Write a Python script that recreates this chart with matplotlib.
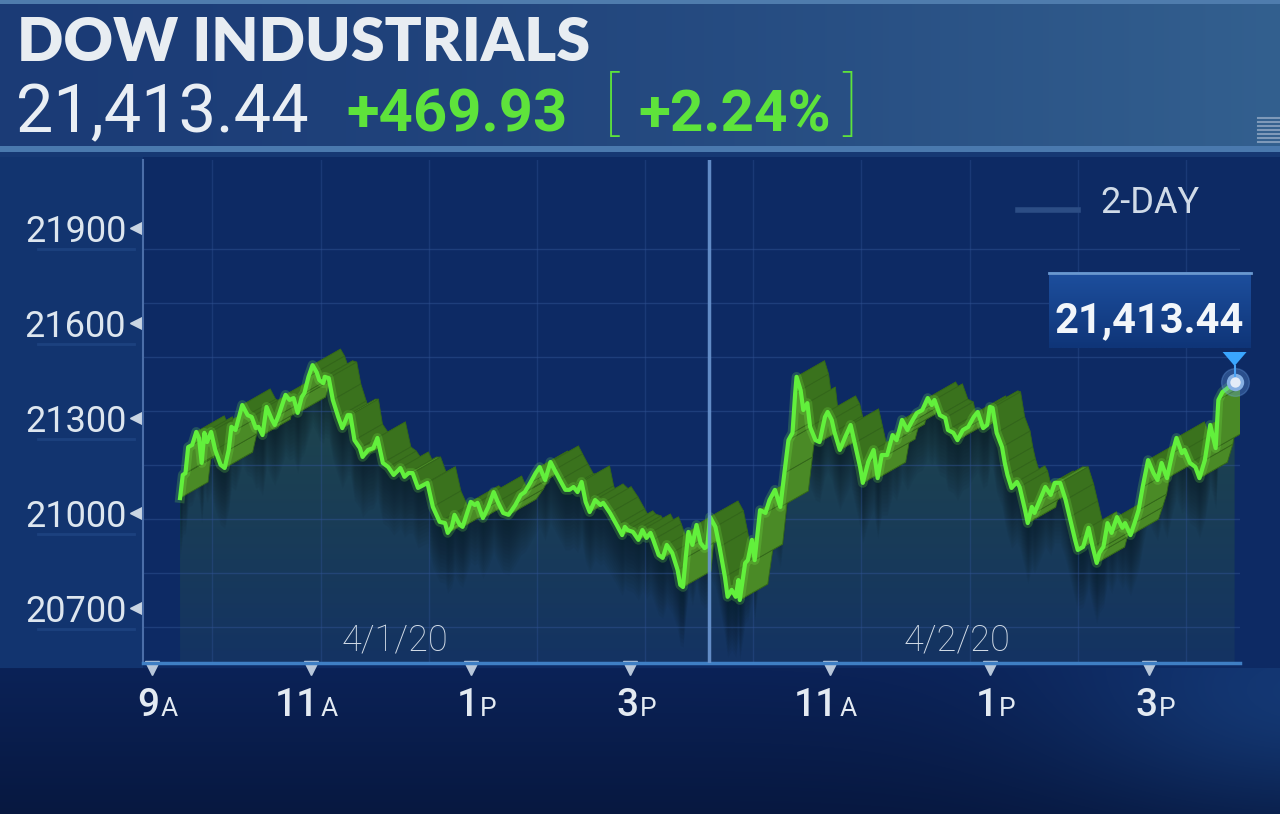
import numpy as np
import matplotlib
matplotlib.use('Agg')
import matplotlib.pyplot as plt
from matplotlib.colors import to_rgb
from matplotlib.patches import Polygon
from matplotlib.collections import PolyCollection
from matplotlib.transforms import blended_transform_factory, offset_copy

# minutes after the 9:30 open of 4/1 (4/2 continues at 390), index level
day1 = np.array([
    (0, 21047), (2, 21120), (4, 21126), (6, 21208), (9, 21215), (12, 21256),
    (14, 21237), (16, 21158), (18, 21253), (20, 21224), (23, 21256), (26, 21199),
    (30, 21152), (33, 21142), (36, 21199), (38, 21272), (41, 21262), (46, 21341),
    (50, 21309), (53, 21303), (56, 21268), (58, 21272), (61, 21246), (64, 21335),
    (68, 21294), (70, 21278), (73, 21309), (78, 21373), (81, 21357), (84, 21363),
    (87, 21316), (90, 21366), (92, 21379), (95, 21430), (98, 21467), (101, 21445),
    (103, 21420), (106, 21410), (107, 21430), (110, 21426), (113, 21357), (117, 21303),
    (120, 21268), (124, 21309), (126, 21309), (129, 21230), (133, 21205), (135, 21177),
    (139, 21199), (143, 21205), (146, 21237), (150, 21158), (154, 21145), (158, 21120),
    (163, 21142), (166, 21114), (169, 21126), (172, 21126), (176, 21079), (183, 21095),
    (187, 21019), (192, 20972), (196, 20968), (198, 20937), (201, 20956), (203, 20994),
    (207, 20962), (209, 20956), (215, 21035), (218, 21025), (220, 21032), (224, 20984),
    (228, 21019), (232, 21066), (235, 21035), (239, 21000), (243, 20994), (248, 21025),
    (252, 21057), (255, 21066), (259, 21095), (263, 21126), (266, 21145), (270, 21104),
    (274, 21161), (277, 21136), (281, 21104), (285, 21073), (288, 21073), (291, 21082),
    (294, 21066), (297, 21098), (300, 21035), (303, 21003), (307, 21041), (311, 21025),
    (313, 21032), (318, 21000), (323, 20962), (327, 20930), (329, 20956), (331, 20946),
    (335, 20940), (339, 20915), (342, 20946), (345, 20921), (348, 20937), (350, 20915),
    (354, 20867), (357, 20858), (360, 20899), (364, 20874), (368, 20820), (370, 20773),
    (372, 20766), (374, 20858), (376, 20940), (379, 20899), (382, 20962), (385, 20905),
    (388, 20889), (390, 20895),
])
day2 = np.array([
    (392, 20987), (396, 20956), (399, 20893), (403, 20798), (405, 20735), (408, 20757),
    (411, 20735), (413, 20788), (414, 20725), (418, 20842), (420, 20851), (423, 20915),
    (425, 20851), (429, 21009), (433, 21000), (436, 21041), (440, 21073), (444, 21019),
    (447, 21126), (450, 21230), (453, 21253), (455, 21379), (456, 21430), (459, 21388),
    (461, 21325), (464, 21347), (466, 21272), (470, 21230), (473, 21224), (477, 21303),
    (479, 21319), (482, 21294), (484, 21256), (488, 21199), (492, 21240), (496, 21278),
    (499, 21221), (503, 21145), (505, 21095), (509, 21161), (513, 21199), (516, 21110),
    (519, 21183), (523, 21183), (527, 21246), (530, 21230), (534, 21294), (538, 21262),
    (541, 21287), (545, 21316), (549, 21325), (553, 21363), (556, 21341), (558, 21357),
    (562, 21309), (566, 21300), (568, 21262), (572, 21253), (575, 21230), (579, 21262),
    (583, 21272), (587, 21303), (590, 21319), (594, 21268), (597, 21278), (599, 21335),
    (601, 21332), (604, 21253), (608, 21208), (610, 21158), (612, 21120), (615, 21079),
    (619, 21098), (621, 21082), (625, 21009), (627, 20968), (630, 21019), (632, 21000),
    (636, 21041), (640, 21082), (644, 21057), (647, 21095), (651, 21095), (655, 21041),
    (658, 20987), (662, 20915), (664, 20883), (668, 20893), (672, 20953), (675, 20893),
    (678, 20842), (680, 20874), (683, 20893), (686, 20968), (689, 20937), (693, 20987),
    (697, 20953), (699, 20968), (703, 20930), (706, 20968), (709, 21009), (712, 21082),
    (716, 21167), (720, 21126), (723, 21104), (726, 21158), (730, 21110), (734, 21189),
    (737, 21237), (741, 21189), (743, 21199), (747, 21158), (751, 21145), (754, 21110),
    (758, 21167), (762, 21278), (766, 21205), (768, 21357), (771, 21382), (775, 21395),
    (780, 21413.44),
])

title = 'DOW INDUSTRIALS'
last_text = '21,413.44'
change_text = '+469.93'
pct_text = '+2.24%'
period_text = '2-DAY'

y_ticks = [20700, 21000, 21300, 21600, 21900]
x_tick_pos = [-21, 97, 215, 333, 481, 599, 717]
x_tick_num = ['9', '11', '1', '3', '11', '1', '3']
x_tick_suf = ['A', 'A', 'P', 'P', 'A', 'P', 'P']
day_labels = ['4/1/20', '4/2/20']
day_label_pos = [159, 575]
day_split = 391

W, H = 1280, 814
AX_L, AX_R, AX_T, AX_B = 143, 1240, 160, 663
XMIN, XMAX = -27.4, 784.0
YMIN, YMAX = 20526, 22115
px_x = (AX_R - AX_L) / (XMAX - XMIN)
px_y = (AX_B - AX_T) / (YMAX - YMIN)


def c(h):
    return np.array(to_rgb(h))


fig = plt.figure(figsize=(12.8, 8.14), dpi=100)

# background picture
yy, xx = np.mgrid[0:H, 0:W].astype(float)
img = np.empty((H, W, 3))
img[:] = c('#0d2a64')
img[(xx < AX_L) & (yy > 155) & (yy < 668)] = c('#12346f')
tb = (xx / W)[..., None] ** 1.4
ban = c('#1b3b76') * (1 - tb) + c('#33608f') * tb
bm = yy < 148
img[bm] = ban[bm]
img[yy < 4] = c('#4f7cad')
img[(yy >= 146) & (yy < 152)] = c('#4a79ae')
img[(yy >= 152) & (yy < 157)] = c('#163873')
tv = np.clip((yy - 668) / 146, 0, 1)[..., None]
botc = c('#0b2257') * (1 - tv) + c('#071840') * tv
glow = np.exp(-(((xx - 1310) / 240) ** 2 + ((yy - 700) / 110) ** 2))[..., None]
botc = botc * (1 - 0.5 * glow) + c('#1d4f94') * 0.5 * glow
bot = yy >= 668
img[bot] = botc[bot]

bg = fig.add_axes([0, 0, 1, 1])
bg.imshow(img, extent=(0, W, H, 0), aspect='auto', interpolation='bilinear')
bg.set_xlim(0, W)
bg.set_ylim(H, 0)
bg.axis('off')

# chart
ax = fig.add_axes([AX_L / W, (H - AX_B) / H, (AX_R - AX_L) / W, (AX_B - AX_T) / H])
ax.patch.set_alpha(0)

t = np.concatenate([day1[:, 0], day2[:, 0]])
v = np.concatenate([day1[:, 1], day2[:, 1]])

# grid
for gy in np.arange(20640, 21900, 170.5):
    ax.axhline(gy, color='#2f5292', lw=1, alpha=0.5, zorder=2.5)
for gx in np.arange(24, XMAX, 80):
    ax.axvline(gx, color='#2f5292', lw=1, alpha=0.4, zorder=2.5)

# area under the line
grad = np.linspace(0, 1, 256)[:, None, None]
gimg = c('#1f4749') * (1 - grad) + c('#143363') * grad
im = ax.imshow(gimg, extent=(t[0], t[-1], YMIN, v.max()), origin='upper',
               aspect='auto', zorder=1, interpolation='bilinear')
clip = Polygon(np.column_stack([np.r_[t, t[-1], t[0]], np.r_[v, YMIN, YMIN]]),
               closed=True, transform=ax.transData, fc='none', ec='none')
ax.add_patch(clip)
im.set_clip_path(clip)
for k in range(1, 16):
    ax.fill_between(t, v - k * 4 / px_y, v, color='#08171f', alpha=0.06, lw=0, zorder=2)

# 3D ribbon behind the line
dxm = 28 / px_x
dyv = 16 / px_y
quads, cols = [], []
for i in range(len(t) - 1):
    x0, y0, x1, y1 = t[i], v[i], t[i + 1], v[i + 1]
    quads.append([(x0, y0), (x1, y1), (x1 + dxm, y1 + dyv), (x0 + dxm, y0 + dyv)])
    cols.append('#4a8a26' if y1 >= y0 else '#3a721d')
ax.add_collection(PolyCollection(quads, facecolors=cols, edgecolors='#33661a',
                                 linewidths=0.6, zorder=3))

ax.plot(t, v, color='#7dff4a', lw=7, alpha=0.2, zorder=4, solid_joinstyle='round')
ax.plot(t, v, color='#62f03c', lw=3, zorder=5, solid_joinstyle='round')

ax.axvline(day_split, color='#6b97d2', lw=2.5, alpha=0.9, zorder=6)

ax.plot(t[-1], v[-1], 'o', ms=20, color='#6fa6ea', alpha=0.3, zorder=7, clip_on=False)
ax.plot(t[-1], v[-1], 'o', ms=10, mfc='#e3ecf7', mec='#86b0e2', mew=2.5, zorder=8,
        clip_on=False)

ax.set_xlim(XMIN, XMAX)
ax.set_ylim(YMIN, YMAX)
for s in ['top', 'right']:
    ax.spines[s].set_visible(False)
ax.spines['bottom'].set_color('#3f7fc4')
ax.spines['bottom'].set_linewidth(2.5)
ax.spines['left'].set_color('#4b6ea8')
ax.spines['left'].set_linewidth(1.5)

ax.set_yticks(y_ticks)
ax.set_yticklabels([str(y) for y in y_ticks], fontfamily='Roboto', fontsize=26,
                   color='#dde6ef')
ax.tick_params(axis='y', length=0, pad=12)
ax.set_xticks([])

ty = blended_transform_factory(ax.transAxes, ax.transData)
ax.plot([-0.006] * len(y_ticks), y_ticks, '<', ms=8, color='#c9d5e3',
        transform=ty, clip_on=False)
under = offset_copy(ty, fig=fig, y=-21, units='dots')
for y in y_ticks:
    ax.plot([-0.096, -0.008], [y, y], color='#1f4584', lw=2, alpha=0.8,
            transform=under, clip_on=False)

tx = blended_transform_factory(ax.transData, ax.transAxes)
ax.plot(x_tick_pos, [-0.01] * len(x_tick_pos), 'v', ms=10, color='#b8c7da',
        transform=tx, clip_on=False)
num_tr = offset_copy(tx, fig=fig, x=8, units='dots')
for pos, num, suf in zip(x_tick_pos, x_tick_num, x_tick_suf):
    tn = ax.text(pos, -0.105, num, transform=num_tr, ha='right', va='baseline',
                 fontfamily='Roboto', fontsize=28, color='#e3eaf2', fontweight='medium')
    ax.annotate(suf, xy=(1, 0), xycoords=tn, xytext=(1, 2), textcoords='offset points',
                ha='left', va='bottom', fontfamily='Roboto', fontsize=19, color='#e3eaf2')

for pos, lab in zip(day_label_pos, day_labels):
    ax.text(pos, 0.024, lab, transform=tx, ha='center', va='baseline',
            fontfamily='Roboto', fontweight='light', fontsize=26, color='#d3dde8', zorder=9)

# overlay (pixel coordinates)
ov = fig.add_axes([0, 0, 1, 1])
ov.set_xlim(0, W)
ov.set_ylim(H, 0)
ov.axis('off')

ov.text(17, 61, title, fontfamily='Lato', fontweight='heavy', fontsize=44,
        color='#e8edf2', va='baseline')
ov.text(16, 132, last_text, fontfamily='Roboto', fontsize=48, color='#e9eef4',
        va='baseline')
green = '#5ee33b'
ov.text(346, 132, change_text, fontfamily='Roboto', fontweight='bold', fontsize=43,
        color=green, va='baseline')
ov.text(604, 127, '[', fontfamily='Roboto', fontweight='light', fontsize=50,
        color=green, va='baseline')
ov.text(638, 132, pct_text, fontfamily='Roboto', fontweight='bold', fontsize=42,
        color=green, va='baseline')
ov.text(842, 127, ']', fontfamily='Roboto', fontweight='light', fontsize=50,
        color=green, va='baseline')
for k in range(7):
    ov.plot([1258, 1280], [118 + 4 * k, 118 + 4 * k], color='#9fb3cc', lw=1.5, alpha=0.7)

ov.plot([1018, 1078], [210, 210], color='#2c4d85', lw=4)
ov.text(1200, 213, period_text, fontfamily='Roboto', fontsize=26, color='#d0dbe8',
        ha='right', va='baseline')

# callout box for the last value
lx = AX_L + (t[-1] - XMIN) * px_x
ly = AX_B - (v[-1] - YMIN) * px_y
bx0, bx1, by0, by1 = lx - 186, lx + 16, 272, 348
bgrad = np.linspace(0, 1, 64)[:, None, None]
bimg = c('#1d4f9e') * (1 - bgrad) + c('#0f3578') * bgrad
ov.imshow(bimg, extent=(bx0, bx1, by1, by0), aspect='auto', zorder=3)
ov.plot([bx0, bx1], [by0 + 1, by0 + 1], color='#6a98cf', lw=2, zorder=4)
ov.text((bx0 + bx1) / 2, by1 - 16, last_text, fontfamily='Roboto', fontweight='bold',
        fontsize=30, color='#f2f6fa', ha='center', va='baseline', zorder=5)
ov.add_patch(Polygon([(lx - 12, by1 + 4), (lx + 12, by1 + 4), (lx, by1 + 18)],
                     closed=True, fc='#3aa6ff', ec='none', zorder=4))
ov.plot([lx, lx], [by1 + 18, ly - 6], color='#4aa3f5', lw=1.5, zorder=4)
ov.set_xlim(0, W)
ov.set_ylim(H, 0)

fig.savefig('out.png', dpi=100)
